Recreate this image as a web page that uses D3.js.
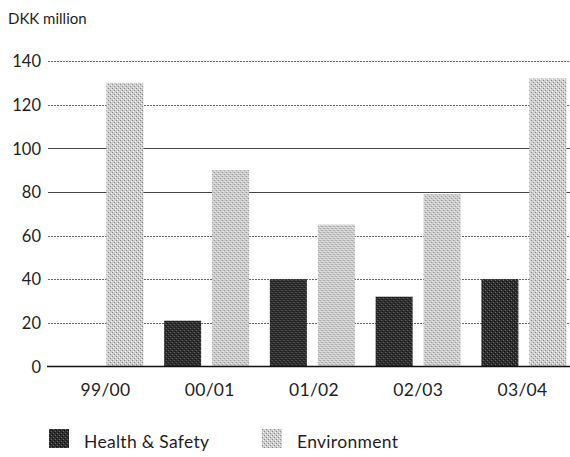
<!DOCTYPE html>
<html>
<head>
<meta charset="utf-8">
<script src="https://cdn.jsdelivr.net/npm/d3@7"></script>
<style>
  html, body { margin: 0; padding: 0; background: #fff; }
  svg { display: block; font-family: Lato, "Open Sans", sans-serif; }
</style>
</head>
<body>
<svg id="chart" width="570" height="457"></svg>
<script>
// Spending per financial year, DKK million
const years = ["99/00", "00/01", "01/02", "02/03", "03/04"];
const healthSafety = [0, 21, 40, 32, 40];
const environment = [130, 90, 65, 79, 132];
const seriesNames = ["Health & Safety", "Environment"];
const yTicks = [0, 20, 40, 60, 80, 100, 120, 140];
const unitLabel = "DKK million";

const svg = d3.select("#chart");

// Halftone-like fills for the two series
const defs = svg.append("defs");
function halftone(id, base, dot, dot2) {
  const p = defs.append("pattern")
    .attr("id", id).attr("patternUnits", "userSpaceOnUse")
    .attr("width", 4).attr("height", 4);
  p.append("rect").attr("width", 4).attr("height", 4).attr("fill", base);
  p.append("rect").attr("x", 0).attr("y", 0).attr("width", 1).attr("height", 1).attr("fill", dot);
  p.append("rect").attr("x", 2).attr("y", 2).attr("width", 1).attr("height", 1).attr("fill", dot);
  p.append("rect").attr("x", 1).attr("y", 3).attr("width", 1).attr("height", 1).attr("fill", dot2);
  p.append("rect").attr("x", 3).attr("y", 1).attr("width", 1).attr("height", 1).attr("fill", dot2);
}
halftone("hsFill", "#2e2e2e", "#6a6a6a", "#111");
halftone("envFill", "#cdcdcd", "#8c8c8c", "#f0f0f0");
const fills = ["url(#hsFill)", "url(#envFill)"];

const x0 = d3.scaleBand().domain(years).range([48, 576.75]).padding(0);
const x1 = d3.scaleBand().domain(seriesNames).range([0, x0.bandwidth()])
  .paddingInner(0.229).paddingOuter(0.216);
const xLabel = d3.scalePoint().domain(years).range([105, 522]);
const y = d3.scaleLinear().domain([0, 140]).range([366.5, 61]);

const textColor = "#1e1e1e";
const fontStack = "Lato, 'Open Sans', sans-serif";

// Unit label
svg.append("text")
  .attr("x", 8).attr("y", 24)
  .attr("font-size", 15).attr("fill", textColor)
  .text(unitLabel);

// Tick labels
const yAxis = d3.axisLeft(y).tickValues(yTicks).tickSize(0).tickPadding(0);
const gy = svg.append("g").attr("transform", "translate(41,0)").call(yAxis);
gy.select(".domain").remove();
gy.selectAll("text")
  .attr("font-size", 16.5).attr("fill", textColor)
  .attr("font-family", fontStack)
  .attr("dy", "0.35em");

// Gridlines: solid at 80 and 100, dotted elsewhere
const grid = svg.append("g");
grid.selectAll("line").data(yTicks.filter(d => d !== 0)).join("line")
  .attr("x1", 48).attr("x2", 570)
  .attr("y1", d => Math.round(y(d)) + 0.5).attr("y2", d => Math.round(y(d)) + 0.5)
  .attr("stroke", d => (d === 80 || d === 100) ? "#444" : "#666")
  .attr("stroke-width", 1)
  .attr("stroke-dasharray", d => (d === 80 || d === 100) ? null : "2,1");

// Bars
const rows = years.map((yr, i) => ({ year: yr, values: [healthSafety[i], environment[i]] }));
const groups = svg.append("g").selectAll("g").data(rows).join("g")
  .attr("transform", d => `translate(${x0(d.year)},0)`);
groups.selectAll("rect")
  .data(d => d.values.map((v, k) => ({ key: seriesNames[k], value: v, k })))
  .join("rect")
  .filter(d => d.value > 0)
  .attr("x", d => x1(d.key))
  .attr("width", x1.bandwidth())
  .attr("y", d => y(d.value))
  .attr("height", d => y(0) - y(d.value))
  .attr("fill", d => fills[d.k]);

// Baseline
svg.append("line")
  .attr("x1", 47).attr("x2", 570)
  .attr("y1", y(0)).attr("y2", y(0))
  .attr("stroke", "#111").attr("stroke-width", 1.6);

// Category labels
const xAxis = d3.axisBottom(xLabel).tickSize(0).tickPadding(0);
const gx = svg.append("g").attr("transform", "translate(0,390)").call(xAxis);
gx.select(".domain").remove();
gx.selectAll("text")
  .attr("font-size", 17.5).attr("fill", textColor)
  .attr("font-family", fontStack)
  .attr("letter-spacing", 0.3)
  .attr("dy", "0.35em");

// Legend
const legendX = [49, 262];
const legend = svg.append("g").selectAll("g").data(seriesNames).join("g")
  .attr("transform", (d, i) => `translate(${legendX[i]},429)`);
legend.append("rect")
  .attr("width", 20).attr("height", 19)
  .attr("fill", (d, i) => fills[i]);
legend.append("text")
  .attr("x", 35).attr("y", 13).attr("dy", "0.35em")
  .attr("font-size", 17.5).attr("fill", textColor)
  .attr("letter-spacing", 0.3)
  .text(d => d);
</script>
</body>
</html>
